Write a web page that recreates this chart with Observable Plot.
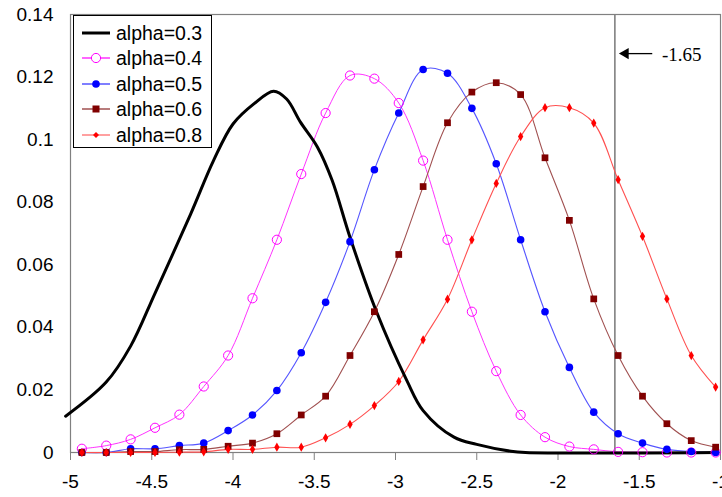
<!DOCTYPE html>
<html>
<head>
<meta charset="utf-8">
<script src="https://cdn.jsdelivr.net/npm/d3@7"></script>
<script src="https://cdn.jsdelivr.net/npm/@observablehq/plot@0.6"></script>
<style>
  html, body { margin: 0; padding: 0; background: #fff; }
  #wrap { position: relative; width: 722px; height: 497px; }
  #legend { position: absolute; left: 73px; top: 15px; width: 139px; height: 133px;
            border: 1px solid #000; background: #fff; box-sizing: border-box;
            font-family: "Liberation Sans", Arial, sans-serif; font-size: 19.5px; color: #000; }
  .row { position: absolute; left: 0; height: 24px; }
  .row svg { position: absolute; left: 8px; top: 0; }
  .row span { position: absolute; left: 42px; top: 0; line-height: 24px; white-space: nowrap; }
  [aria-label="x-axis"] line, [aria-label="x-axis tick"] path { stroke: #808080; }
</style>
</head>
<body>
<div id="wrap"></div>
<script>
// ---- data ----
const xs = [-4.93, -4.78, -4.63, -4.48, -4.33, -4.18, -4.03, -3.88, -3.73, -3.58, -3.43, -3.28, -3.13,
            -2.98, -2.83, -2.68, -2.53, -2.38, -2.23, -2.08, -1.93, -1.78, -1.63, -1.48, -1.33, -1.18, -1.03];
const alpha04 = [0.0012, 0.0022, 0.0042, 0.0079, 0.0121, 0.0211, 0.031, 0.0493, 0.068, 0.089, 0.1085, 0.1205, 0.1195,
                 0.1117, 0.0933, 0.068, 0.045, 0.026, 0.012, 0.0049, 0.0019, 0.001, 0.0002, 0.0001, 0, 0, 0];
const alpha05 = [0, 0, 0.0012, 0.0012, 0.0022, 0.003, 0.007, 0.012, 0.0198, 0.0319, 0.048, 0.0674, 0.0904,
                 0.1085, 0.1224, 0.1212, 0.110, 0.0923, 0.068, 0.045, 0.0272, 0.0129, 0.006, 0.003, 0.001, 0.0003, 0];
const alpha06 = [0, 0, 0.0003, 0.0003, 0.0009, 0.001, 0.002, 0.003, 0.006, 0.012, 0.018, 0.031, 0.045,
                 0.0633, 0.085, 0.1054, 0.1152, 0.1182, 0.1144, 0.0942, 0.0742, 0.0491, 0.031, 0.018, 0.0092, 0.0038, 0.0017];
const alpha08 = [0, 0, 0, 0, 0.0001, 0.0002, 0.001, 0.001, 0.0017, 0.0017, 0.0047, 0.009, 0.015,
                 0.0227, 0.036, 0.049, 0.068, 0.086, 0.101, 0.1102, 0.1102, 0.1053, 0.0872, 0.0691, 0.0491, 0.031, 0.0209];
const alpha03x = [-5.03, -4.78, -4.63, -4.48, -4.26, -4.12, -4.0, -3.87, -3.75, -3.67, -3.585,
                  -3.48, -3.39, -3.28, -3.12, -2.93, -2.83, -2.64, -2.5, -2.29, -2.2, -1.03];
const alpha03 = [0.0116, 0.0225, 0.034, 0.0509, 0.0763, 0.0933, 0.105, 0.1115, 0.1155, 0.113, 0.1056,
                 0.0976, 0.087, 0.0688, 0.0454, 0.023, 0.0134, 0.0049, 0.0026, 0.0004, 0, 0];
const seriesNames = ["alpha=0.3", "alpha=0.4", "alpha=0.5", "alpha=0.6", "alpha=0.8"];
const xTicks = [-5, -4.5, -4, -3.5, -3, -2.5, -2, -1.5, -1];
const xTickLabels = ["-5", "-4.5", "-4", "-3.5", "-3", "-2.5", "-2", "-1.5", "-1"];
const yTicks = [0, 0.02, 0.04, 0.06, 0.08, 0.1, 0.12, 0.14];
const yTickLabels = ["0", "0.02", "0.04", "0.06", "0.08", "0.1", "0.12", "0.14"];
const cutoff = [-1.65];
const cutoffLabel = ["-1.65"];
const arrowY = [0.1275];
const arrowFrom = [-1.42];
const arrowTo = [-1.585];
const labelX = [-1.36];

// ---- styles ----
const styles = [
  {line: "#000000", width: 3,   marker: null},
  {line: "#ff33ff", width: 1,   marker: {symbol: "circle",  r: 4.6, fill: "none",    stroke: "#ff00ff", sw: 1}},
  {line: "#5555ff", width: 1.1, marker: {symbol: "circle",  r: 3.8, fill: "#0000ff", stroke: "none",    sw: 0}},
  {line: "#a05050", width: 1.1, marker: {symbol: "square",  r: 3.8, fill: "#800000", stroke: "none",    sw: 0}},
  {line: "#ff5050", width: 1.1, marker: {symbol: "diamond", r: 2.8, fill: "#ff0000", stroke: "none",    sw: 0}}
];

const mk = (xArr, yArr) => xArr.map((x, i) => ({x, y: yArr[i]}));
const sets = [mk(alpha03x, alpha03), mk(xs, alpha04), mk(xs, alpha05), mk(xs, alpha06), mk(xs, alpha08)];

const marks = [Plot.frame({stroke: "#808080", strokeWidth: 1.2})];
marks.push(Plot.ruleX(cutoff, {stroke: "#808080", strokeWidth: 1.6}));
[1, 2, 3, 4, 0].forEach(i => {
  const s = styles[i];
  marks.push(Plot.line(sets[i], {x: "x", y: "y", stroke: s.line, strokeWidth: s.width, curve: "catmull-rom"}));
});
[1, 2, 3, 4].forEach(i => {
  const m = styles[i].marker;
  marks.push(Plot.dot(sets[i], {x: "x", y: "y", symbol: m.symbol, r: m.r, fill: m.fill, stroke: m.stroke, strokeWidth: m.sw}));
});
// annotation arrow + label
const ann = cutoffLabel.map((t, i) => ({t, y: arrowY[i], x1: arrowFrom[i], x2: arrowTo[i], lx: labelX[i]}));
marks.push(Plot.link(ann, {x1: "x1", x2: "x2", y1: "y", y2: "y", stroke: "#000", strokeWidth: 1.3}));
marks.push(Plot.dot(ann, {x: "x2", y: "y", symbol: "triangle", r: 4.2, rotate: -90, fill: "#000", stroke: "none"}));
marks.push(Plot.text(ann, {x: "lx", y: "y", text: "t", textAnchor: "start", fontFamily: "Liberation Serif, Times New Roman, serif",
                           fontSize: 19, fill: "#000", dy: 1}));

const chart = Plot.plot({
  width: 722, height: 497,
  marginLeft: 70, marginRight: 2, marginTop: 14, marginBottom: 45,
  style: {fontFamily: "Liberation Sans, Arial, sans-serif", fontSize: "19px", color: "#000", background: "#fff", overflow: "visible"},
  x: {domain: [-5, -1], ticks: xTicks, tickFormat: d => xTickLabels[xTicks.indexOf(d)], tickSize: 8, tickPadding: 14, label: null},
  y: {domain: [0, 0.14], ticks: yTicks, tickFormat: d => yTickLabels[yTicks.indexOf(d)], tickSize: 0, tickPadding: 17, label: null},
  marks
});
const wrap = document.getElementById("wrap");
wrap.appendChild(chart);

// ---- legend ----
const legend = document.createElement("div");
legend.id = "legend";
const rowTops = [5, 30, 56, 81, 107];
seriesNames.forEach((name, i) => {
  const s = styles[i];
  const row = document.createElement("div");
  row.className = "row";
  row.style.top = rowTops[i] + "px";
  let sym = "";
  const m = s.marker;
  if (m) {
    if (m.symbol === "circle") sym = `<circle cx="14" cy="12" r="${m.r}" fill="${m.fill === "none" ? "#fff" : m.fill}" stroke="${m.stroke}" stroke-width="1"/>`;
    else if (m.symbol === "square") sym = `<rect x="10.5" y="8.5" width="7" height="7" fill="${m.fill}"/>`;
    else sym = `<path d="M14 9 L17 12 L14 15 L11 12 Z" fill="${m.fill}"/>`;
  }
  row.innerHTML = `<svg width="30" height="24"><line x1="0" x2="28" y1="12" y2="12" stroke="${i === 4 ? "#ff8080" : s.line}" stroke-width="${i === 0 ? 3 : 1.5}"/>${sym}</svg><span>${name}</span>`;
  legend.appendChild(row);
});
wrap.appendChild(legend);
</script>
</body>
</html>
